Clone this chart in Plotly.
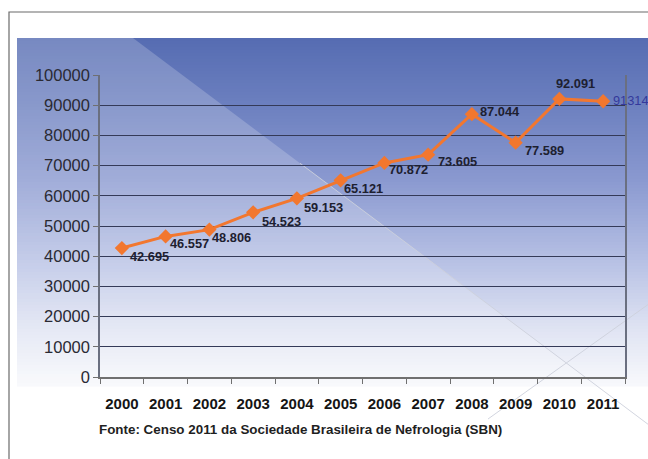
import plotly.graph_objects as go

# ---- data ----
years = ["2000", "2001", "2002", "2003", "2004", "2005",
         "2006", "2007", "2008", "2009", "2010", "2011"]
patients = [42695, 46557, 48806, 54523, 59153, 65121,
            70872, 73605, 87044, 77589, 92091, 91314]
point_labels = ["42.695", "46.557", "48.806", "54.523", "59.153", "65.121",
                "70.872", "73.605", "87.044", "77.589", "92.091", "91314"]
y_ticks = [0, 10000, 20000, 30000, 40000, 50000, 60000, 70000, 80000, 90000, 100000]
source_text = "Fonte: Censo 2011 da Sociedade Brasileira de Nefrologia (SBN)"

# ---- layout geometry (pixels) ----
W, H = 648, 459
L, R, T, B = 100, 625, 75, 377  # plot area edges
SANS = "Liberation Sans, Arial"


def px(xp):
    return (xp - L) / (R - L)


def py(yp):
    return (B - yp) / (B - T)


# label offsets (style): (xanchor, xshift, yshift)
label_style = [
    ("left", 6, -8), ("left", 2, -7), ("left", 1, -8), ("left", 7, -9),
    ("left", 5, -9), ("left", 1, -8), ("left", 3, -7), ("left", 8, -7),
    ("left", 6, 3), ("left", 7, -8), ("center", 16, 15), ("left", 8, 1),
]

fig = go.Figure()

fig.add_trace(go.Scatter(
    x=years, y=patients, mode="lines+markers",
    line=dict(color="#f2772f", width=3),
    marker=dict(symbol="diamond", size=11, color="#f2772f"),
    showlegend=False, hoverinfo="skip",
))

shapes = []

# background gradient (stripes)
stops = [(38, (86, 108, 178)), (100, (106, 126, 190)), (180, (138, 153, 208)),
         (260, (182, 192, 228)), (330, (224, 228, 243)), (386, (248, 249, 252))]


def col_at(y):
    for (y0, c0), (y1, c1) in zip(stops[:-1], stops[1:]):
        if y0 <= y <= y1:
            t = (y - y0) / (y1 - y0)
            return tuple(round(a + (b - a) * t) for a, b in zip(c0, c1))
    return stops[-1][1]


g_top, g_bot, g_left = 38, 386, 17
step = 3
yy = g_top
while yy < g_bot:
    y2 = min(yy + step, g_bot)
    c = col_at(yy + step / 2)
    shapes.append(dict(type="rect", xref="paper", yref="paper", layer="below",
                       x0=px(g_left), x1=px(W + 5), y0=py(yy), y1=py(y2 + 0.6),
                       fillcolor="rgb(%d,%d,%d)" % c, line=dict(width=0)))
    yy = y2

# lighter diagonal region
x_diag_bottom = 133 + (g_bot - 38) / 0.75
path = "M %f,%f L %f,%f L %f,%f L %f,%f Z" % (
    px(g_left), py(g_top), px(133), py(g_top),
    px(x_diag_bottom), py(g_bot), px(g_left), py(g_bot))
shapes.append(dict(type="path", xref="paper", yref="paper", layer="below",
                   path=path, fillcolor="rgba(255,255,255,0.20)", line=dict(width=0)))

# faint diagonal lines
shapes.append(dict(type="line", xref="paper", yref="paper", layer="below",
                   x0=px(300), y0=py(38 + 0.75 * 167), x1=px(660), y1=py(38 + 0.75 * 527),
                   line=dict(color="rgba(205,208,220,0.9)", width=1)))
shapes.append(dict(type="line", xref="paper", yref="paper", layer="below",
                   x0=px(488), y0=py(419), x1=px(660), y1=py(296),
                   line=dict(color="rgba(205,208,220,0.9)", width=1)))

# outer frame
shapes.append(dict(type="rect", xref="paper", yref="paper", layer="below",
                   x0=px(9), x1=px(W + 10), y0=py(12), y1=py(H + 10),
                   line=dict(color="#6b6b6b", width=1.2), fillcolor="rgba(0,0,0,0)"))

annotations = []
for i, (v, txt, (xa, xs, ys)) in enumerate(zip(patients, point_labels, label_style)):
    last = txt == "91314"
    annotations.append(dict(
        x=i, y=v, xref="x", yref="y", text=txt if last else "<b>%s</b>" % txt,
        showarrow=False, xanchor=xa, yanchor="middle", xshift=xs, yshift=ys,
        font=dict(family=SANS, size=12.8,
                  color="#34399c" if last else "#1d2030"),
    ))

annotations.append(dict(
    x=px(97), y=py(429), xref="paper", yref="paper", text="<b>%s</b>" % source_text,
    showarrow=False, xanchor="left", yanchor="middle",
    font=dict(family=SANS, size=13.4, color="#1f1f1f"),
))

fig.update_layout(
    width=W, height=H,
    margin=dict(l=L, r=W - R, t=T, b=H - B),
    paper_bgcolor="white",
    plot_bgcolor="rgba(0,0,0,0)",
    shapes=shapes,
    annotations=annotations,
    xaxis=dict(
        type="category", range=[-0.5, 11.5], tickson="boundaries",
        ticks="outside", ticklen=5, tickcolor="#707070", tickwidth=1.2,
        showline=True, linecolor="#707070", linewidth=1.5,
        showgrid=False, zeroline=False, ticklabelstandoff=12, tickangle=0,
        tickprefix="<b>", ticksuffix="</b>",
        tickfont=dict(family=SANS, size=15, color="#151515"),
    ),
    yaxis=dict(
        range=[0, 100000], tickvals=y_ticks, tickformat="d",
        ticks="outside", ticklen=5, tickcolor="#707070", tickwidth=1.2,
        showline=True, linecolor="#6a6f80", linewidth=1.5, mirror=True,
        showgrid=True, gridcolor="#343a58", gridwidth=1.4, zeroline=False,
        tickfont=dict(family=SANS, size=16.5, color="#2a2a33"),
    ),
)

fig.write_html("out.html")
